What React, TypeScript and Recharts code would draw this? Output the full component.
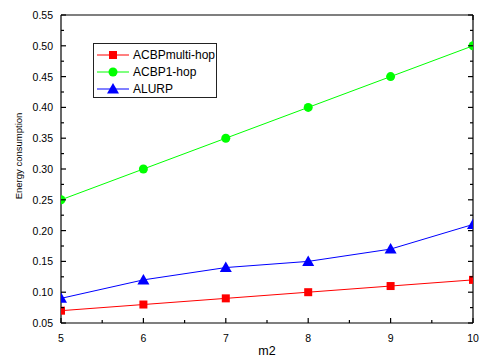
import React from 'react';
import { Label, Legend, Line, LineChart, XAxis, YAxis } from 'recharts';

const m2Values = [5, 6, 7, 8, 9, 10];
const acbpMultiHop = [0.07, 0.08, 0.09, 0.1, 0.11, 0.12];
const acbpOneHop = [0.25, 0.3, 0.35, 0.4, 0.45, 0.5];
const alurp = [0.09, 0.12, 0.14, 0.15, 0.17, 0.21];

const xMajorTicks = [5, 6, 7, 8, 9, 10];
const xMinorTicks = [5.5, 6.5, 7.5, 8.5, 9.5];
const yMajorTicks = [0.05, 0.1, 0.15, 0.2, 0.25, 0.3, 0.35, 0.4, 0.45, 0.5, 0.55];
const yMinorTicks = [0.075, 0.125, 0.175, 0.225, 0.275, 0.325, 0.375, 0.425, 0.475, 0.525];

const xAllTicks = [...xMajorTicks, ...xMinorTicks].sort((a, b) => a - b);
const yAllTicks = [...yMajorTicks, ...yMinorTicks].sort((a, b) => a - b);

const data = m2Values.map((m, i) => ({
  m2: m,
  multi: acbpMultiHop[i],
  one: acbpOneHop[i],
  alurp: alurp[i],
}));

const FONT = 'Liberation Sans, Arial, sans-serif';
const CLIP_ID = 'plot-area-clip';

const SquareDot = (props: any) => {
  const { cx, cy } = props;
  if (cx == null || cy == null) return null;
  return <rect x={cx - 4} y={cy - 4} width={8} height={8} fill="#ff0000" clipPath={`url(#${CLIP_ID})`} />;
};

const CircleDot = (props: any) => {
  const { cx, cy } = props;
  if (cx == null || cy == null) return null;
  return <circle cx={cx} cy={cy} r={4.5} fill="#00ff00" clipPath={`url(#${CLIP_ID})`} />;
};

const TriangleDot = (props: any) => {
  const { cx, cy } = props;
  if (cx == null || cy == null) return null;
  return (
    <polygon
      points={`${cx},${cy - 6} ${cx + 6},${cy + 4.5} ${cx - 6},${cy + 4.5}`}
      fill="#0000ff"
      clipPath={`url(#${CLIP_ID})`}
    />
  );
};

const isMajor = (v: number, majors: number[]) => majors.some((m) => Math.abs(m - v) < 1e-9);

// inward tick mark (long for major, short for minor) plus optional label
const makeTick = (side: 'bottom' | 'top' | 'left' | 'right', majors: number[], label: boolean) => (props: any) => {
  const { x, y, payload } = props;
  const major = isMajor(payload.value, majors);
  const len = major ? 5 : 3;
  const stroke = { stroke: '#000', strokeWidth: 1.2 };
  if (side === 'bottom') {
    return (
      <g>
        <line x1={x} y1={y} x2={x} y2={y - len} {...stroke} />
        {label && major && (
          <text x={x} y={y + 19} textAnchor="middle" fontFamily={FONT} fontSize={10.5} fill="#000">
            {String(payload.value)}
          </text>
        )}
      </g>
    );
  }
  if (side === 'top') {
    return <line x1={x} y1={y} x2={x} y2={y + len} {...stroke} />;
  }
  if (side === 'left') {
    return (
      <g>
        <line x1={x} y1={y} x2={x + len} y2={y} {...stroke} />
        {label && major && (
          <text x={x - 8} y={y + 4} textAnchor="end" fontFamily={FONT} fontSize={10.5} fill="#000">
            {Number(payload.value).toFixed(2)}
          </text>
        )}
      </g>
    );
  }
  return <line x1={x} y1={y} x2={x - len} y2={y} {...stroke} />;
};

const legendItems = [
  { name: 'ACBPmulti-hop', color: '#ff0000', shape: 'square' },
  { name: 'ACBP1-hop', color: '#00ff00', shape: 'circle' },
  { name: 'ALURP', color: '#0000ff', shape: 'triangle' },
];

const LegendBox = () => (
  <div
    style={{
      position: 'absolute',
      left: 93,
      top: 43,
      width: 122,
      height: 53,
      border: '1px solid #222',
      background: '#fff',
      fontFamily: FONT,
      fontSize: 12,
      lineHeight: 'normal',
    }}
  >
    {legendItems.map((it) => (
      <div key={it.name} style={{ display: 'flex', alignItems: 'center', height: 17, marginTop: it.shape === 'square' ? 2 : 0 }}>
        <svg width={38} height={14} style={{ display: 'block' }}>
          <line x1={3} y1={7} x2={35} y2={7} stroke={it.color} strokeWidth={1} />
          {it.shape === 'square' && <rect x={15} y={3} width={8} height={8} fill={it.color} />}
          {it.shape === 'circle' && <circle cx={19} cy={7} r={4.5} fill={it.color} />}
          {it.shape === 'triangle' && <polygon points="19,1 25,11.5 13,11.5" fill={it.color} />}
        </svg>
        <span style={{ color: '#000', marginLeft: 1 }}>{it.name}</span>
      </div>
    ))}
  </div>
);

const YTitle = () => {
  const cy = 156;
  const cx = 18;
  return (
    <g>
      <defs>
        <clipPath id={CLIP_ID}>
          <rect x={61} y={15} width={412} height={308} />
        </clipPath>
      </defs>
      <text
        x={cx}
        y={cy}
        transform={`rotate(-90, ${cx}, ${cy})`}
        textAnchor="middle"
        dominantBaseline="central"
        fontFamily={FONT}
        fontSize={9.5}
        fill="#000"
      >
        Energy consumption
      </text>
    </g>
  );
};

const axisStroke = { stroke: '#000', strokeWidth: 1.2 };

export default function App() {
  return (
    <div style={{ position: 'absolute', left: 0, top: 0, width: 482, height: 358, background: '#fff' }}>
      <LineChart width={482} height={358} data={data} margin={{ top: 14, right: 8, bottom: 0, left: 0 }}>
        <XAxis
          xAxisId="main"
          dataKey="m2"
          type="number"
          domain={[5, 10]}
          ticks={xAllTicks}
          interval={0}
          allowDataOverflow
          height={35}
          tickSize={0}
          tickMargin={0}
          tick={makeTick('bottom', xMajorTicks, true)}
          axisLine={axisStroke}
          tickLine={false}
        >
          <Label value="m2" position="insideBottom" offset={3} style={{ fontFamily: FONT, fontSize: 12.5, fill: '#000' }} />
        </XAxis>
        <XAxis
          xAxisId="top"
          orientation="top"
          type="number"
          domain={[5, 10]}
          ticks={xAllTicks}
          interval={0}
          allowDataOverflow
          height={1}
          tickSize={0}
          tickMargin={0}
          tick={makeTick('top', xMajorTicks, false)}
          axisLine={axisStroke}
          tickLine={false}
        />
        <YAxis
          yAxisId="main"
          type="number"
          domain={[0.05, 0.55]}
          ticks={yAllTicks}
          interval={0}
          allowDataOverflow
          width={61}
          tickSize={0}
          tickMargin={0}
          tick={makeTick('left', yMajorTicks, true)}
          axisLine={axisStroke}
          tickLine={false}
        >
          <Label content={<YTitle />} />
        </YAxis>
        <YAxis
          yAxisId="right"
          orientation="right"
          type="number"
          domain={[0.05, 0.55]}
          ticks={yAllTicks}
          interval={0}
          allowDataOverflow
          width={1}
          tickSize={0}
          tickMargin={0}
          tick={makeTick('right', yMajorTicks, false)}
          axisLine={axisStroke}
          tickLine={false}
        />
        <Legend
          content={<LegendBox />}
          wrapperStyle={{ position: 'absolute', left: 0, top: 0, width: 0, height: 0, overflow: 'visible' }}
        />
        <Line
          xAxisId="main"
          yAxisId="main"
          dataKey="multi"
          name="ACBPmulti-hop"
          stroke="#ff0000"
          strokeWidth={1}
          dot={<SquareDot />}
          activeDot={false}
          isAnimationActive={false}
        />
        <Line
          xAxisId="main"
          yAxisId="main"
          dataKey="one"
          name="ACBP1-hop"
          stroke="#00ff00"
          strokeWidth={1}
          dot={<CircleDot />}
          activeDot={false}
          isAnimationActive={false}
        />
        <Line
          xAxisId="main"
          yAxisId="main"
          dataKey="alurp"
          name="ALURP"
          stroke="#0000ff"
          strokeWidth={1}
          dot={<TriangleDot />}
          activeDot={false}
          isAnimationActive={false}
        />
      </LineChart>
    </div>
  );
}
